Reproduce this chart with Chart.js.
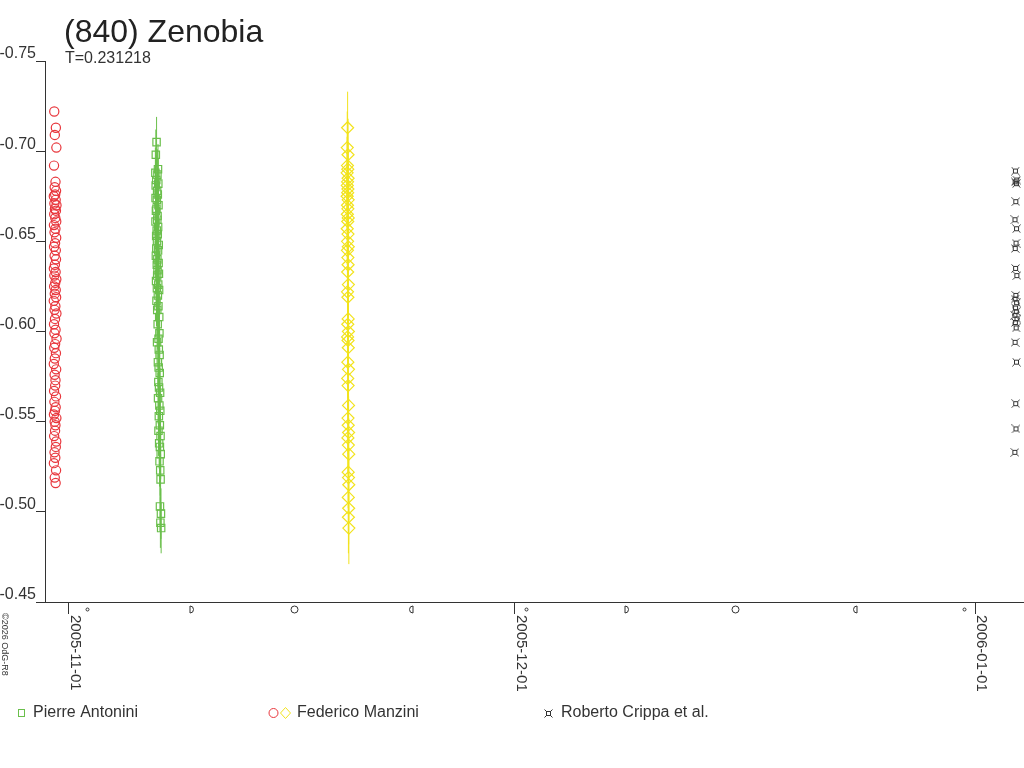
<!DOCTYPE html>
<html>
<head>
<meta charset="utf-8">
<title>(840) Zenobia</title>
<script src="https://cdn.jsdelivr.net/npm/chart.js@4.4.1/dist/chart.umd.min.js"></script>
<style>
  html, body { margin: 0; padding: 0; background: #fff; }
  canvas { display: block; }
</style>
</head>
<body>
<canvas id="courbe" width="1024" height="768"></canvas>
<script>
// textes
const titre = '(840) Zenobia';
const sousTitre = 'T=0.231218';
const credit = '\u00a92026 OdG-R8';

// axes
const yTicks = [-0.75, -0.70, -0.65, -0.60, -0.55, -0.50, -0.45];
const xTickDates = ['2005-11-01', '2005-12-01', '2006-01-01'];
const xDebut = '2005-10-30T09:14:00Z';
const xFin = '2006-01-04T07:08:00Z';

// phases de la lune (UTC)
const phasesLune = [
  ['2005-11-02T01:25:00Z', 'nouvelle'],
  ['2005-11-09T01:57:00Z', 'premier'],
  ['2005-11-16T00:58:00Z', 'pleine'],
  ['2005-11-23T22:11:00Z', 'dernier'],
  ['2005-12-01T15:01:00Z', 'nouvelle'],
  ['2005-12-08T09:36:00Z', 'premier'],
  ['2005-12-15T16:16:00Z', 'pleine'],
  ['2005-12-23T19:36:00Z', 'dernier'],
  ['2005-12-31T03:12:00Z', 'nouvelle']
];

// Federico Manzini, nuit du 2005-10-30 (heures depuis 00:00 UTC)
const manziniNuit1 = '2005-10-30';
const manziniHeures1 = [
  24.2,26.8,25.1,27.6,23.8,26.2,24.9,27.1,25.7,23.5,26.5,24.4,27.8,25.3,26.9,24.1,25.9,27.4,23.7,26.1,
  24.6,27.3,25.5,23.9,26.7,24.8,27.0,25.2,23.6,26.4,24.3,27.5,25.8,24.0,26.6,25.0,27.2,23.4,26.0,24.7,
  27.7,25.4,23.8,26.3,24.5,27.9,25.6,24.2,26.9,25.1,23.5,27.3,24.8,26.2,25.7,23.9,27.0,24.4,26.5,25.3,
  23.7,27.6,24.9,26.1,25.5,24.0,27.4,26.7,24.6,25.9,23.6,27.1,25.0,26.4
];
const manziniMag1 = [
  -0.722,-0.713,-0.709,-0.702,-0.692,-0.683,-0.680,-0.678,-0.676,-0.675,
  -0.673,-0.671,-0.670,-0.668,-0.667,-0.665,-0.663,-0.661,-0.659,-0.657,
  -0.655,-0.652,-0.649,-0.647,-0.645,-0.642,-0.640,-0.637,-0.635,-0.633,
  -0.631,-0.629,-0.627,-0.625,-0.623,-0.621,-0.619,-0.617,-0.614,-0.612,
  -0.610,-0.607,-0.604,-0.601,-0.599,-0.596,-0.593,-0.591,-0.588,-0.585,
  -0.582,-0.579,-0.576,-0.573,-0.570,-0.567,-0.564,-0.561,-0.558,-0.556,
  -0.554,-0.552,-0.550,-0.548,-0.545,-0.542,-0.539,-0.536,-0.533,-0.530,
  -0.527,-0.523,-0.519,-0.516
];

// Pierre Antonini, nuit du 2005-11-06
const antoniniNuit = '2005-11-06';
const antoniniHeures = [
  21.5,20.3,23.8,19.6,22.9,21.0,24.3,20.1,22.4,23.5,
  19.9,22.0,24.6,21.3,20.5,23.1,22.7,19.8,24.0,21.7,
  23.4,20.9,22.2,25.0,21.1,23.9,20.4,22.8,24.8,21.9,
  23.0,25.3,22.5,20.7,24.2,22.1,25.6,23.6,21.4,24.5,
  22.6,25.8,23.3,26.1,24.7,22.3,25.1,26.4,23.7,24.9,
  26.6,24.4,25.5,27.2,23.9,26.0,27.5,25.2,26.8,24.6,
  27.9,25.7,26.9,28.2,26.3,27.4,28.0,27.0,28.6,27.7,
  28.9
];
const antoniniMag = [
  -0.705,-0.698,-0.690,-0.688,-0.687,-0.684,-0.682,-0.681,-0.678,-0.676,
  -0.674,-0.673,-0.670,-0.668,-0.667,-0.664,-0.662,-0.661,-0.658,-0.656,
  -0.654,-0.653,-0.650,-0.648,-0.646,-0.645,-0.642,-0.640,-0.638,-0.637,
  -0.634,-0.632,-0.631,-0.628,-0.626,-0.624,-0.623,-0.620,-0.617,-0.614,
  -0.612,-0.608,-0.604,-0.599,-0.596,-0.594,-0.590,-0.587,-0.583,-0.580,
  -0.577,-0.572,-0.569,-0.566,-0.563,-0.559,-0.556,-0.553,-0.548,-0.545,
  -0.542,-0.538,-0.536,-0.532,-0.528,-0.523,-0.518,-0.503,-0.499,-0.494,
  -0.491
];
const antoniniErreur = 0.014;

// Federico Manzini, nuit du 2005-11-19
const manziniNuit2 = '2005-11-19';
const manziniHeures2 = [
  18.2,17.6,18.9,17.9,18.5,17.4,19.0,18.1,17.7,18.7,
  18.3,17.5,19.1,18.0,18.6,17.8,19.2,18.4,17.6,18.8,
  18.1,19.3,17.9,18.6,19.0,18.3,19.4,18.0,18.7,19.1,
  18.5,19.5,18.2,18.9,19.3,18.6,19.6,18.4,19.0,19.7,
  18.8,19.2,19.8,18.7,19.4,20.0,19.1,19.6,20.1,19.3,
  19.9,19.5,20.2
];
const manziniMag2 = [
  -0.713,-0.702,-0.698,-0.692,-0.690,-0.688,-0.685,-0.683,-0.681,-0.679,
  -0.677,-0.675,-0.673,-0.670,-0.668,-0.665,-0.663,-0.661,-0.657,-0.654,
  -0.650,-0.647,-0.645,-0.641,-0.637,-0.633,-0.626,-0.622,-0.619,-0.607,
  -0.604,-0.600,-0.597,-0.595,-0.591,-0.583,-0.579,-0.574,-0.570,-0.559,
  -0.552,-0.548,-0.544,-0.541,-0.537,-0.532,-0.522,-0.519,-0.515,-0.508,
  -0.502,-0.497,-0.491
];
const manziniErreur2 = 0.020;

// Roberto Crippa et al., nuit du 2006-01-03
const crippaNuit = '2006-01-03';
const crippaHeures = [
  17.2,19.4,16.8,18.9,17.9,16.5,19.1,18.3,16.9,17.6,
  19.6,18.0,16.6,19.2,17.4,18.7,16.4,19.8,17.1,18.5,
  16.7,19.0,17.8,18.2,16.3
];
const crippaMag = [
  -0.689,-0.684,-0.683,-0.682,-0.672,-0.662,-0.657,-0.649,-0.646,-0.635,
  -0.631,-0.620,-0.618,-0.616,-0.613,-0.611,-0.609,-0.607,-0.605,-0.602,
  -0.594,-0.583,-0.560,-0.546,-0.533
];

const couleurs = {
  antonini: '#6abf4b',
  manzini1: '#e8363c',
  manzini2: '#f2e31d',
  crippa: '#333333',
  texte: '#333333'
};

const police = '"Liberation Sans", Arial, Helvetica, sans-serif';

function points(nuit, heures, mags) {
  const t0 = Date.parse(nuit + 'T00:00:00Z');
  return mags.map((m, i) => ({ x: t0 + heures[i] * 3600000, y: m }));
}

function marqueCrippa() {
  const c = document.createElement('canvas');
  c.width = 9;
  c.height = 9;
  const g = c.getContext('2d');
  g.strokeStyle = couleurs.crippa;
  g.lineWidth = 1;
  g.strokeRect(2.5, 2.5, 4, 4);
  g.beginPath();
  g.moveTo(0.5, 0.5); g.lineTo(2.5, 2.5);
  g.moveTo(8.5, 0.5); g.lineTo(6.5, 2.5);
  g.moveTo(0.5, 8.5); g.lineTo(2.5, 6.5);
  g.moveTo(8.5, 8.5); g.lineTo(6.5, 6.5);
  g.stroke();
  return c;
}
const imageCrippa = marqueCrippa();

// barres d'erreur verticales, sous les points
const barresErreur = {
  id: 'barresErreur',
  beforeDatasetsDraw(chart) {
    const { ctx, scales: { x, y } } = chart;
    ctx.save();
    chart.data.datasets.forEach((ds, i) => {
      if (!ds.erreur || !chart.isDatasetVisible(i)) return;
      ctx.strokeStyle = ds.borderColor;
      ctx.lineWidth = 1;
      ctx.beginPath();
      ds.data.forEach(p => {
        const px = x.getPixelForValue(p.x);
        ctx.moveTo(px, y.getPixelForValue(p.y - ds.erreur));
        ctx.lineTo(px, y.getPixelForValue(p.y + ds.erreur));
      });
      ctx.stroke();
    });
    ctx.restore();
  }
};

function symboleLune(ctx, px, py, phase) {
  ctx.beginPath();
  if (phase === 'nouvelle') {
    ctx.arc(px, py, 1.5, 0, Math.PI * 2);
  } else if (phase === 'pleine') {
    ctx.arc(px, py, 3.5, 0, Math.PI * 2);
  } else if (phase === 'premier') {
    ctx.moveTo(px - 1.5, py - 3.5);
    ctx.lineTo(px - 1.5, py + 3.5);
    ctx.arc(px - 1.5, py, 3.5, Math.PI / 2, -Math.PI / 2, true);
  } else {
    ctx.moveTo(px + 1.5, py - 3.5);
    ctx.lineTo(px + 1.5, py + 3.5);
    ctx.arc(px + 1.5, py, 3.5, Math.PI / 2, Math.PI * 1.5, false);
  }
  ctx.stroke();
}

// titre, dates, lune, legende
const decor = {
  id: 'decor',
  afterDraw(chart) {
    const { ctx, scales: { x } } = chart;
    ctx.save();
    ctx.fillStyle = '#222';
    ctx.textAlign = 'left';
    ctx.textBaseline = 'alphabetic';
    ctx.font = '32px ' + police;
    ctx.fillText(titre, 64, 42);
    ctx.fillStyle = couleurs.texte;
    ctx.font = '16px ' + police;
    ctx.fillText(sousTitre, 65, 63);

    // dates sous l'axe, ecrites de haut en bas
    ctx.font = '15px ' + police;
    xTickDates.forEach(d => {
      const px = x.getPixelForValue(Date.parse(d + 'T00:00:00Z'));
      ctx.save();
      ctx.translate(Math.round(px) + 2, 615);
      ctx.rotate(Math.PI / 2);
      ctx.fillText(d, 0, 0);
      ctx.restore();
    });

    // symboles de la lune
    ctx.strokeStyle = couleurs.texte;
    ctx.lineWidth = 1;
    phasesLune.forEach(([d, phase]) => {
      const px = Math.round(x.getPixelForValue(Date.parse(d))) + 2.5;
      symboleLune(ctx, px, 609.5, phase);
    });

    // credit
    ctx.font = '9px ' + police;
    ctx.save();
    ctx.translate(2, 613);
    ctx.rotate(Math.PI / 2);
    ctx.fillText(credit, 0, 0);
    ctx.restore();

    // legende
    const ly = 713;
    ctx.font = '16px ' + police;
    ctx.textBaseline = 'middle';
    ctx.strokeStyle = couleurs.antonini;
    ctx.strokeRect(18.5, 709.5, 6, 7);
    ctx.fillText('Pierre Antonini', 33, ly);

    ctx.strokeStyle = couleurs.manzini1;
    ctx.beginPath();
    ctx.arc(273.5, ly, 4.5, 0, Math.PI * 2);
    ctx.stroke();
    ctx.strokeStyle = couleurs.manzini2;
    ctx.beginPath();
    ctx.moveTo(285.5, ly - 5.5);
    ctx.lineTo(290.5, ly);
    ctx.lineTo(285.5, ly + 5.5);
    ctx.lineTo(280.5, ly);
    ctx.closePath();
    ctx.stroke();
    ctx.fillText('Federico Manzini', 297, ly);

    ctx.drawImage(imageCrippa, 544, ly - 4);
    ctx.fillText('Roberto Crippa et al.', 561, ly);
    ctx.restore();
  }
};

Chart.defaults.font.family = police;
Chart.defaults.color = couleurs.texte;

const diagramme = new Chart(document.getElementById('courbe'), {
  type: 'scatter',
  data: {
    datasets: [
      {
        label: 'Federico Manzini',
        data: points(manziniNuit1, manziniHeures1, manziniMag1),
        pointStyle: 'circle',
        pointRadius: 4.6,
        borderWidth: 1.2,
        borderColor: couleurs.manzini1,
        backgroundColor: 'rgba(0,0,0,0)'
      },
      {
        label: 'Pierre Antonini',
        data: points(antoniniNuit, antoniniHeures, antoniniMag),
        erreur: antoniniErreur,
        pointStyle: 'rect',
        pointRadius: 5.2,
        borderWidth: 1.2,
        borderColor: couleurs.antonini,
        backgroundColor: 'rgba(0,0,0,0)'
      },
      {
        label: 'Federico Manzini',
        data: points(manziniNuit2, manziniHeures2, manziniMag2),
        erreur: manziniErreur2,
        pointStyle: 'rectRot',
        pointRadius: 6,
        borderWidth: 1.2,
        borderColor: couleurs.manzini2,
        backgroundColor: 'rgba(0,0,0,0)'
      },
      {
        label: 'Roberto Crippa et al.',
        data: points(crippaNuit, crippaHeures, crippaMag),
        pointStyle: imageCrippa,
        pointRadius: 4.5,
        borderColor: couleurs.crippa,
        backgroundColor: 'rgba(0,0,0,0)'
      }
    ]
  },
  options: {
    responsive: false,
    animation: false,
    layout: { autoPadding: false, padding: { top: 61, left: 0, right: 0, bottom: 0 } },
    plugins: {
      legend: { display: false },
      title: { display: false },
      tooltip: { enabled: false }
    },
    scales: {
      x: {
        type: 'linear',
        min: Date.parse(xDebut),
        max: Date.parse(xFin),
        afterBuildTicks(s) {
          s.ticks = xTickDates.map(d => ({ value: Date.parse(d + 'T00:00:00Z') }));
        },
        afterFit(s) { s.height = 166; },
        ticks: { display: false },
        grid: { drawOnChartArea: false, tickLength: 12, color: '#333' },
        border: { color: '#333' }
      },
      y: {
        reverse: true,
        min: -0.75,
        max: -0.45,
        afterBuildTicks(s) {
          s.ticks = yTicks.map(v => ({ value: v }));
        },
        afterFit(s) { s.width = 45; },
        ticks: {
          font: { size: 16 },
          color: couleurs.texte,
          padding: 0,
          labelOffset: -7,
          callback: v => v.toFixed(2)
        },
        grid: { drawOnChartArea: false, tickLength: 9, color: '#333' },
        border: { color: '#333' }
      }
    }
  },
  plugins: [barresErreur, decor]
});
</script>
</body>
</html>
